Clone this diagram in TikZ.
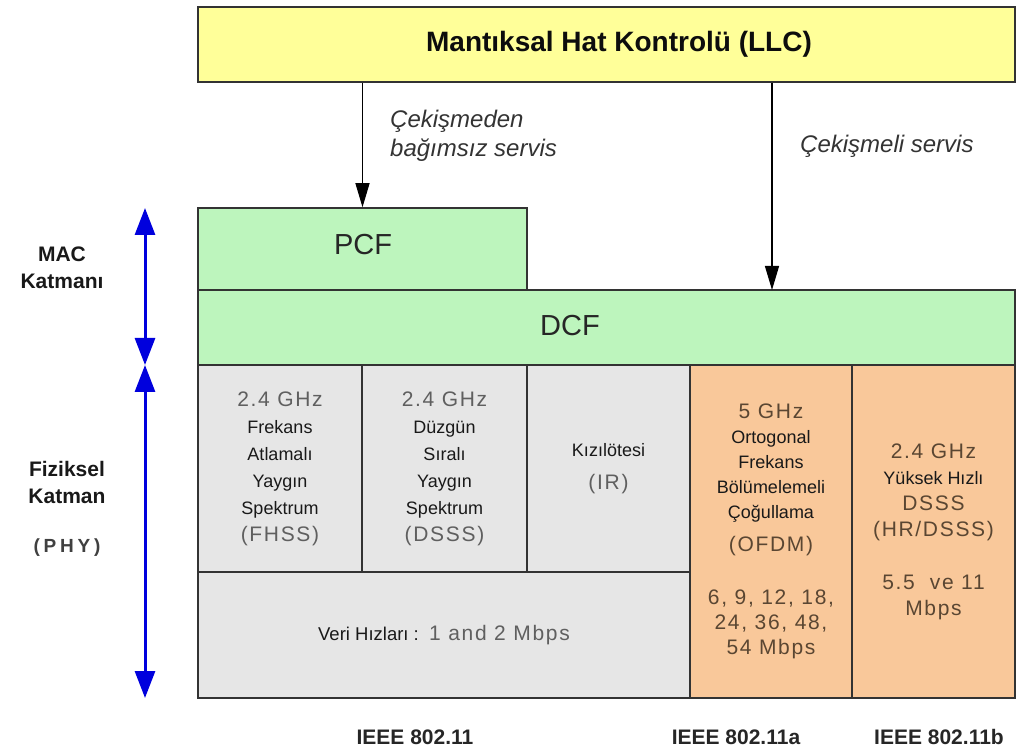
\documentclass[tikz,border=0pt]{standalone}
\usepackage{fontspec}
\setmainfont{Liberation Sans}
\newfontfamily\widefont[LetterSpace=8]{Liberation Sans}
\newfontfamily\roomyfont[LetterSpace=20]{Liberation Sans}
\usetikzlibrary{arrows.meta}

\definecolor{llcyellow}{HTML}{FFFF99}
\definecolor{macgreen}{HTML}{BDF5BD}
\definecolor{phygray}{HTML}{E6E6E6}
\definecolor{phyorange}{HTML}{F9C89A}
\definecolor{graytext}{HTML}{5F5F5F}
\definecolor{browntext}{HTML}{5A4632}
\definecolor{layerblue}{HTML}{0000DD}

\newcommand{\bandtext}[1]{{\widefont\fontsize{21}{27}\selectfont #1}}

\begin{document}
\begin{tikzpicture}[
    x=1pt, y=-1pt,
    >={Triangle[width=14pt,length=24pt]},
    every node/.style={inner sep=0pt},
    layer/.style={draw=black!80, line width=1.5pt, align=center},
    grid cell/.style={layer, fill=phygray, text=black!90},
    band cell/.style={layer, fill=phyorange, text=black!90},
    func label/.style={font=\fontsize{29}{32}\selectfont, text=black!85},
    side label/.style={font=\bfseries\fontsize{21}{27}\selectfont, align=center, text=black!90},
    std label/.style={font=\bfseries\fontsize{21}{24}\selectfont, text=black!85},
    service/.style={font=\itshape\fontsize{24}{29}\selectfont, align=left, anchor=west, text=black!80},
    svc arrow/.style={->, line width=1.2pt},
    span arrow/.style={{Triangle[width=20pt,length=27pt]}-{Triangle[width=20pt,length=27pt]},
      draw=layerblue, line width=3pt}
]
  \useasboundingbox (0,0) rectangle (1018,751);

  % nodes
  \node[layer, fill=llcyellow, minimum width=817pt, minimum height=75pt] (llc) at (606.5,44.5) {};
  \node[font=\bfseries\fontsize{28}{32}\selectfont, text=black!95] (llctext) at (619,44) {Mantıksal Hat Kontrolü (LLC)};
  \node[layer, fill=macgreen, minimum width=329pt, minimum height=82pt] (pcf) at (362.5,249) {};
  \node[func label] (pcftext) at (363,245) {PCF};
  \node[layer, fill=macgreen, minimum width=817pt, minimum height=75pt] (dcf) at (606.5,327.5) {};
  \node[func label] (dcftext) at (570,326) {DCF};

  \node[grid cell, minimum width=164pt, minimum height=207pt,
        font=\fontsize{18}{27}\selectfont] (fhss) at (280,468.5)
    {\textcolor{graytext}{\bandtext{2.4 GHz}}\\Frekans\\Atlamalı\\Yaygın\\Spektrum\\\textcolor{graytext}{\bandtext{(FHSS)}}};
  \node[grid cell, minimum width=165pt, minimum height=207pt,
        font=\fontsize{18}{27}\selectfont] (dsss) at (444.5,468.5)
    {\textcolor{graytext}{\bandtext{2.4 GHz}}\\Düzgün\\Sıralı\\Yaygın\\Spektrum\\\textcolor{graytext}{\bandtext{(DSSS)}}};
  \node[grid cell, minimum width=163pt, minimum height=207pt,
        font=\fontsize{18}{33}\selectfont] (ir) at (608.5,468.5)
    {Kızılötesi\\\textcolor{graytext}{\bandtext{(IR)}}};
  \node[grid cell, minimum width=492pt, minimum height=126pt,
        font=\fontsize{18.5}{27}\selectfont] (rates) at (444,635)
    {Veri Hızları :\ \ \textcolor{graytext}{\bandtext{1 and 2 Mbps}}};

  \node[band cell, minimum width=162pt, minimum height=333pt,
        font=\fontsize{18}{25}\selectfont] (ofdm) at (771,531.5)
    {\textcolor{browntext}{\bandtext{5 GHz}}\\Ortogonal\\Frekans\\Bölümelemeli\\Çoğullama\\[8pt]%
     \textcolor{browntext}{\bandtext{(OFDM)}}\\[28pt]%
     \textcolor{browntext}{\bandtext{6, 9, 12, 18,}}\\\textcolor{browntext}{\bandtext{24, 36, 48,}}\\%
     \textcolor{browntext}{\bandtext{54 Mbps}}};
  \node[band cell, minimum width=163pt, minimum height=333pt,
        font=\fontsize{18}{26}\selectfont] (hrdsss) at (933.5,531.5)
    {\textcolor{browntext}{\bandtext{2.4 GHz}}\\Yüksek Hızlı\\\textcolor{browntext}{\bandtext{DSSS}}\\%
     \textcolor{browntext}{\bandtext{(HR/DSSS)}}\\[27pt]%
     \textcolor{browntext}{\bandtext{5.5\ \ ve 11}}\\\textcolor{browntext}{\bandtext{Mbps}}};

  \node[side label] (mac) at (62,268) {MAC\\Katmanı};
  \node[side label] (phy) at (67,482) {Fiziksel\\Katman};
  \node[font=\roomyfont\bfseries\fontsize{19}{20}\selectfont, text=black!75] (phyabbr) at (67,548) {(PHY)};

  \node[service] (free) at (390,136) {Çekişmeden\\bağımsız servis};
  \node[service] (cont) at (800,146) {Çekişmeli servis};

  \node[std label] (std) at (415,737) {IEEE 802.11};
  \node[std label] (stda) at (736,737) {IEEE 802.11a};
  \node[std label] (stdb) at (939,737) {IEEE 802.11b};

  \coordinate (dcfin) at (772,290);
  \coordinate (mactop) at (145,208);
  \coordinate (macbot) at (145,365);
  \coordinate (phybot) at (145,698);

  % edges
  \draw[svc arrow] (pcf.north |- llc.south) -- (pcf.north);
  \draw[svc arrow] (dcfin |- llc.south) -- (dcfin);
  \draw[span arrow] (mactop) -- (macbot);
  \draw[span arrow] (macbot) -- (phybot);
\end{tikzpicture}
\end{document}
